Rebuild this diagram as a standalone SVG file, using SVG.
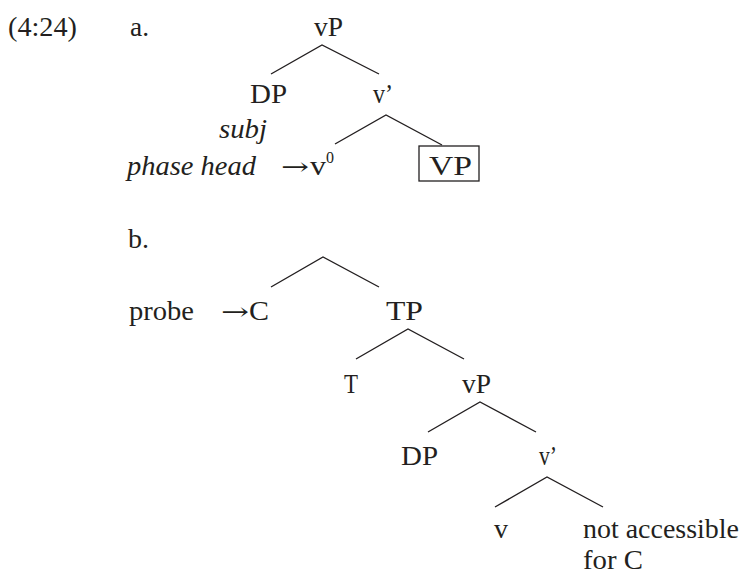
<svg xmlns="http://www.w3.org/2000/svg" width="740" height="575" viewBox="0 0 740 575">
<style>
text{font-family:"Liberation Serif","Times New Roman",serif;font-size:27px;fill:#231f20}
.it{font-style:italic}
.sup{font-size:16px}
.arr{font-family:"DejaVu Serif","DejaVu Sans",serif;font-size:24px}
.edge{stroke:#231f20;stroke-width:1.4;fill:none}
.box{stroke:#231f20;stroke-width:1.3;fill:none}
</style>
<rect width="740" height="575" fill="#fff"/>
<g id="label-example"><text x="8" y="36" textLength="69" lengthAdjust="spacingAndGlyphs">(4:24)</text></g>
<g id="label-a"><text x="130" y="36" textLength="19" lengthAdjust="spacingAndGlyphs">a.</text></g>
<g id="a-vP"><text x="314" y="36" textLength="29" lengthAdjust="spacingAndGlyphs">vP</text></g>
<g id="a-DP"><text x="250" y="103" textLength="37" lengthAdjust="spacingAndGlyphs">DP</text></g>
<g id="a-vbar"><text x="373" y="103" textLength="20" lengthAdjust="spacingAndGlyphs">v’</text></g>
<g id="a-subj"><text class="it" x="219" y="138" textLength="48" lengthAdjust="spacingAndGlyphs">subj</text></g>
<g id="a-phasehead"><text class="it" x="127" y="175" textLength="129" lengthAdjust="spacingAndGlyphs">phase head</text></g>
<g id="a-v0"><text class="arr" x="281" y="175" textLength="28" lengthAdjust="spacingAndGlyphs">→</text><text x="310" y="175" textLength="16" lengthAdjust="spacingAndGlyphs">v</text><text class="sup" x="326" y="163">0</text></g>
<g id="a-VP"><rect class="box" x="419" y="146" width="60" height="35"/><text x="429" y="175" textLength="43" lengthAdjust="spacingAndGlyphs">VP</text></g>
<g id="label-b"><text x="128" y="248" textLength="21" lengthAdjust="spacingAndGlyphs">b.</text></g>
<g id="b-probe"><text x="129" y="320" textLength="65" lengthAdjust="spacingAndGlyphs">probe</text></g>
<g id="b-C"><text class="arr" x="221" y="320" textLength="28" lengthAdjust="spacingAndGlyphs">→</text><text x="249" y="320" textLength="20" lengthAdjust="spacingAndGlyphs">C</text></g>
<g id="b-TP"><text x="386" y="320" textLength="37" lengthAdjust="spacingAndGlyphs">TP</text></g>
<g id="b-T"><text x="344" y="393" textLength="14" lengthAdjust="spacingAndGlyphs">T</text></g>
<g id="b-vP"><text x="462" y="393" textLength="29" lengthAdjust="spacingAndGlyphs">vP</text></g>
<g id="b-DP"><text x="401" y="465" textLength="37" lengthAdjust="spacingAndGlyphs">DP</text></g>
<g id="b-vbar"><text x="539" y="465" textLength="18" lengthAdjust="spacingAndGlyphs">v’</text></g>
<g id="b-v"><text x="494" y="538" textLength="14" lengthAdjust="spacingAndGlyphs">v</text></g>
<g id="b-notaccessible"><text x="583" y="538" textLength="156" lengthAdjust="spacingAndGlyphs">not accessible</text><text x="583" y="569" textLength="60" lengthAdjust="spacingAndGlyphs">for C</text></g>
<g id="connectors">
<path class="edge" d="M271,74 L322,45 L379,74"/>
<path class="edge" d="M335,144 L386,115 L442,145"/>
<path class="edge" d="M271,287 L323,257 L379,287"/>
<path class="edge" d="M356,359 L408,329 L464,359"/>
<path class="edge" d="M428,432 L480,402 L536,432"/>
<path class="edge" d="M495,507 L547,477 L603,507"/>
</g>
</svg>
